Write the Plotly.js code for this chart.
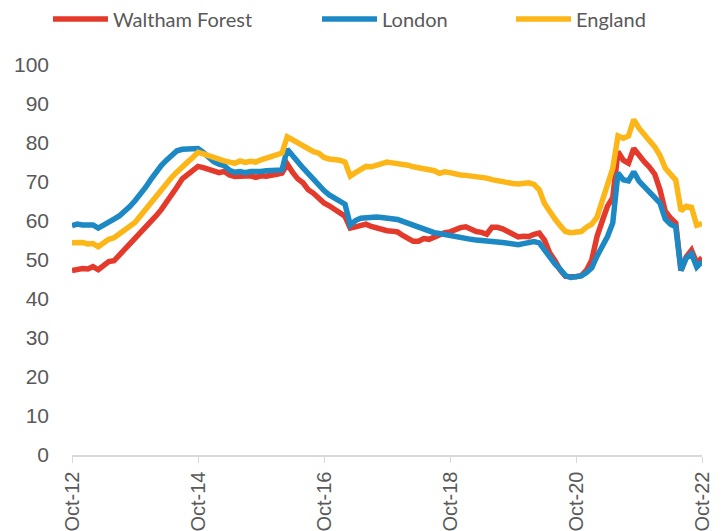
<!DOCTYPE html>
<html>
<head>
<meta charset="utf-8">
<script src="https://cdn.plot.ly/plotly-3.0.1.min.js"></script>
<style>html,body{margin:0;padding:0;background:#fff;}#chart{width:724px;height:531px;}</style>
</head>
<body>
<div id="chart"></div>
<script>
// Month index 0 = Oct-12 ... 120 = Oct-22
const tickPositions = [0, 24, 48, 72, 96, 120];
const tickLabels = ["Oct-12", "Oct-14", "Oct-16", "Oct-18", "Oct-20", "Oct-22"];
const seriesNames = ["Waltham Forest", "London", "England"];

const walthamForest = [47.3,47.6,47.8,47.7,48.3,47.5,48.6,49.6,49.8,51.2,52.4,53.8,55.3,56.6,58.2,59.8,61.3,62.9,64.7,66.7,68.7,70.8,71.8,72.8,74.0,73.7,73.2,72.9,72.4,72.7,71.8,71.4,71.5,71.3,71.6,71.2,71.6,71.5,71.9,72.0,72.3,74.6,72.5,70.8,69.8,68.0,67.1,65.6,64.6,63.9,62.8,62.1,61.2,58.2,58.5,58.7,59.2,58.6,58.2,57.8,57.5,57.4,57.2,56.3,55.5,54.8,54.8,55.5,55.3,55.8,56.6,57.0,57.2,57.8,58.3,58.5,57.8,57.3,57.1,56.6,58.4,58.4,58.0,57.3,56.8,55.9,56.1,56.0,56.6,56.9,55.1,51.8,49.8,47.4,45.8,45.6,45.7,46.0,47.4,50.0,56.0,60.0,63.8,66.0,77.8,75.6,74.8,78.6,76.6,75.2,73.8,72.0,68.0,62.5,60.8,59.5,47.3,50.8,52.5,49.2,50.6];

const london = [58.8,59.2,59.0,59.1,59.0,58.2,59.1,60.0,60.5,61.3,62.3,63.7,65.2,66.8,68.6,70.6,72.5,74.2,75.6,77.0,78.0,78.4,78.5,78.6,78.6,77.6,76.2,75.2,74.6,74.2,73.0,72.5,72.7,72.4,72.7,72.6,72.7,72.9,73.0,72.9,73.1,78.4,76.6,75.2,73.6,72.1,70.6,69.3,67.8,66.7,65.9,65.2,64.3,59.0,60.1,60.7,60.9,60.8,61.0,60.9,60.8,60.8,60.4,59.9,59.4,58.8,58.2,57.7,57.2,57.0,56.8,56.5,56.3,56.0,55.8,55.5,55.3,55.1,54.9,54.8,54.7,54.6,54.5,54.3,54.1,53.9,54.2,54.5,54.7,54.4,52.6,50.4,49.0,47.6,46.0,45.5,45.6,45.9,46.8,48.0,51.0,53.5,56.0,59.5,72.3,70.6,70.3,72.6,70.2,68.8,67.4,66.0,64.6,60.5,59.2,58.5,47.3,50.5,51.6,48.2,49.6];

const england = [54.4,54.6,54.5,54.1,54.2,53.4,54.3,55.3,55.7,56.6,57.4,58.4,59.6,61.3,63.0,64.7,66.5,68.3,69.8,71.2,72.6,74.1,75.1,76.3,77.6,77.2,76.7,76.2,75.8,75.4,75.1,74.8,75.4,75.0,75.3,75.1,75.7,76.1,76.4,76.9,77.4,81.6,80.8,79.8,79.0,78.2,77.8,77.4,76.3,75.9,75.8,75.6,75.1,71.5,72.4,73.4,74.0,73.9,74.3,74.6,75.1,74.9,74.8,74.6,74.3,73.9,73.6,73.4,73.0,72.9,72.2,72.6,72.4,72.0,71.8,71.7,71.5,71.3,71.4,71.0,70.6,70.3,70.2,69.9,69.6,69.5,69.6,69.8,69.4,68.0,64.5,62.3,60.5,58.8,57.3,57.0,57.2,57.3,58.4,59.2,61.0,65.0,69.7,73.5,81.8,81.2,81.8,86.0,83.8,82.2,80.5,79.0,76.8,73.6,72.0,70.5,62.6,63.8,63.5,58.9,59.3];

const monthIndex = walthamForest.map((_, i) => i);
const colors = ["#E43A2C", "#1C89C4", "#FDB618"];
const allSeries = [walthamForest, london, england];
const legendIds = ["legend", "legend2", "legend3"];

const traces = allSeries.map((ys, k) => ({
  type: "scatter",
  mode: "lines",
  x: monthIndex,
  y: ys,
  name: seriesNames[k],
  legend: legendIds[k],
  line: {color: colors[k], width: 5.5, shape: "linear"},
  cliponaxis: false,
  hoverinfo: "skip"
}));

const legendFont = {family: "Lato, 'Liberation Sans', sans-serif", size: 20, color: "#595959"};
const mkLegend = (xpx) => ({
  x: xpx / 724, y: 1 - 19 / 531, xref: "container", yref: "container",
  xanchor: "left", yanchor: "middle",
  orientation: "h", font: legendFont, bgcolor: "rgba(0,0,0,0)",
  itemwidth: 55, borderwidth: 0
});

const layout = {
  width: 724, height: 531,
  margin: {l: 72, r: 22, t: 65, b: 76, pad: 0},
  paper_bgcolor: "#ffffff", plot_bgcolor: "#ffffff",
  showlegend: true,
  legend: mkLegend(48),
  legend2: mkLegend(317),
  legend3: mkLegend(511),
  xaxis: {
    range: [0, 120], type: "linear",
    tickvals: tickPositions, ticktext: tickLabels,
    tickangle: -90, ticks: "outside", ticklen: 6, tickwidth: 1, tickcolor: "#d9d9d9",
    showline: true, linecolor: "#d9d9d9", linewidth: 1.5,
    showgrid: false, zeroline: false,
    tickfont: {family: "'Liberation Sans', Arial, sans-serif", size: 20, color: "#595959"},
    ticklabelstandoff: 1
  },
  yaxis: {
    range: [0, 100], dtick: 10, tick0: 0,
    showgrid: false, zeroline: false, showline: false, ticks: "",
    tickfont: {family: "'Liberation Sans', Arial, sans-serif", size: 21, color: "#595959"},
    ticklabelstandoff: 22
  }
};

Plotly.newPlot("chart", traces, layout, {displayModeBar: false, staticPlot: true});
</script>
</body>
</html>
